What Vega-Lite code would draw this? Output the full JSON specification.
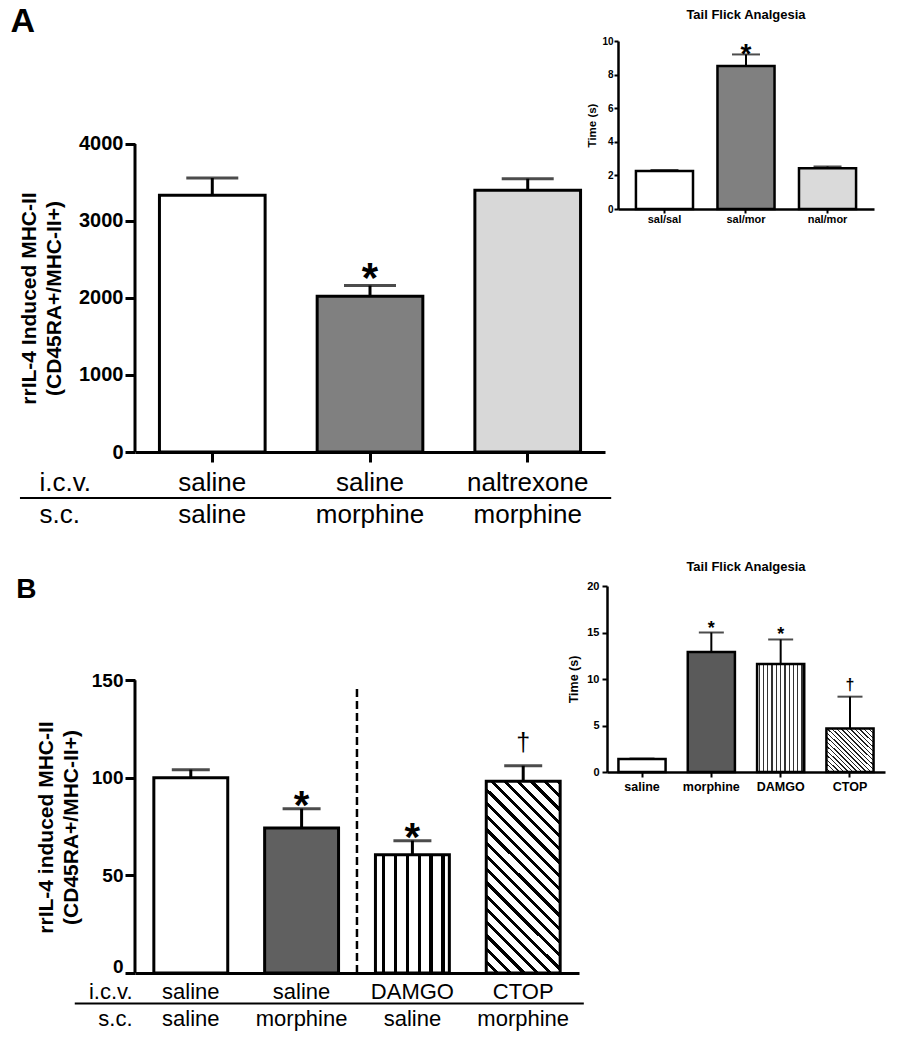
{
  "$schema": "https://vega.github.io/schema/vega-lite/v6.json",
  "background": "white",
  "padding": {"left": 10, "top": 5, "right": 5, "bottom": 5},
  "config": {
    "view": {"stroke": null},
    "font": "Liberation Sans",
    "axis": {"grid": false, "labelColor": "black", "titleColor": "black", "domainColor": "black", "tickColor": "black"},
    "title": {"color": "black"}
  },
  "spacing": 33,
  "vconcat": [
    {
      "spacing": -27,
      "hconcat": [
        {
          "width": 470,
          "height": 411,
          "title": {"text": "A", "anchor": "start", "frame": "bounds", "fontSize": 34, "fontWeight": "bold", "offset": 2, "dx": -8},
          "data": {"values": [
            {"group": "saline|saline", "value": 3334, "upper": 3557, "sig": ""},
            {"group": "saline|morphine", "value": 2023, "upper": 2161, "sig": "*"},
            {"group": "naltrexone|morphine", "value": 3398, "upper": 3548, "sig": ""}
          ]},
          "layer": [
            {
              "mark": {"type": "bar", "stroke": "black", "strokeWidth": 3},
              "encoding": {
                "x": {"field": "group", "type": "nominal", "sort": null,
                  "scale": {"paddingInner": 0.33, "paddingOuter": 0.155},
                  "axis": {"orient": "bottom", "labelAngle": 0, "labelExpr": "split(datum.value, '|')",
                    "labelFontSize": 26, "labelLineHeight": 32.7, "labelBaseline": "alphabetic", "labelPadding": 28,
                    "labelOverlap": false, "labelBound": false,
                    "title": ["i.c.v.", "s.c."], "titleX": -96, "titleY": 38, "titleAlign": "left",
                    "titleBaseline": "alphabetic", "titleFontSize": 26, "titleFontWeight": "normal", "titleLineHeight": 32.7,
                    "domainWidth": 3, "tickWidth": 3, "tickSize": 10}},
                "y": {"field": "value", "type": "quantitative", "scale": {"domain": [0, 5336], "nice": false},
                  "axis": {"orient": "left", "values": [0, 1000, 2000, 3000, 4000], "format": "d", "domain": false,
                    "title": ["rrIL-4 Induced MHC-II", "(CD45RA+/MHC-II+)"], "titleY": 257,
                    "titleFontSize": 21, "titleFontWeight": "bold", "titleLineHeight": 25, "titlePadding": 14,
                    "labelFontSize": 20, "labelFontWeight": "bold", "labelPadding": 2, "tickSize": 10, "tickWidth": 3}},
                "fill": {"condition": [
                  {"test": "datum.group === 'saline|morphine'", "value": "#808080"},
                  {"test": "datum.group === 'naltrexone|morphine'", "value": "#d8d8d8"}
                ], "value": "white"}
              }
            },
            {
              "transform": [{"filter": "datum.group === 'saline|saline'"}],
              "mark": {"type": "rule", "strokeWidth": 3, "color": "black"},
              "encoding": {
                "x": {"datum": "saline|saline", "type": "nominal", "bandPosition": -0.2313, "axis": null},
                "y": {"datum": 0, "type": "quantitative", "axis": null},
                "y2": {"datum": 4000}
              }
            },
            {
              "mark": {"type": "rule", "strokeWidth": 3, "color": "black"},
              "encoding": {
                "x": {"field": "group", "type": "nominal", "sort": null, "axis": null},
                "y": {"field": "value", "type": "quantitative", "axis": null},
                "y2": {"field": "upper"}
              }
            },
            {
              "mark": {"type": "tick", "orient": "horizontal", "size": 52, "thickness": 3, "color": "black"},
              "encoding": {
                "x": {"field": "group", "type": "nominal", "sort": null, "axis": null},
                "y": {"field": "upper", "type": "quantitative", "axis": null}
              }
            },
            {
              "transform": [{"filter": "datum.group === 'saline|saline'"}],
              "mark": {"type": "rule", "strokeWidth": 2, "color": "black"},
              "encoding": {
                "x": {"datum": "saline|saline", "type": "nominal", "bandPosition": -1.32, "axis": null},
                "x2": {"datum": "naltrexone|morphine", "bandPosition": 1.29},
                "y": {"datum": -597, "type": "quantitative", "axis": null}
              }
            },
            {
              "transform": [{"filter": "datum.sig === '*'"}],
              "mark": {"type": "text", "fontSize": 42, "fontWeight": "bold", "baseline": "alphabetic", "dy": 6, "color": "black"},
              "encoding": {
                "x": {"field": "group", "type": "nominal", "sort": null, "axis": null},
                "y": {"field": "upper", "type": "quantitative", "axis": null},
                "text": {"field": "sig"}
              }
            }
          ],
          "resolve": {"axis": {"x": "independent", "y": "independent"}}
        },
        {
          "width": 256,
          "height": 168,
          "title": {"text": "Tail Flick Analgesia", "anchor": "middle", "fontSize": 13, "fontWeight": "bold", "offset": 14},
          "data": {"values": [
            {"group": "sal/sal", "value": 2.26, "upper": 2.32, "sig": ""},
            {"group": "sal/mor", "value": 8.51, "upper": 9.2, "sig": "*"},
            {"group": "nal/mor", "value": 2.43, "upper": 2.53, "sig": ""}
          ]},
          "layer": [
            {
              "mark": {"type": "bar", "stroke": "black", "strokeWidth": 2.5},
              "encoding": {
                "x": {"field": "group", "type": "nominal", "sort": null,
                  "scale": {"paddingInner": 0.3, "paddingOuter": 0.22},
                  "axis": {"title": null, "labelAngle": 0, "labelFontSize": 11, "labelFontWeight": "bold", "labelPadding": 0,
                    "tickSize": 4, "tickWidth": 2, "domainWidth": 2.5}},
                "y": {"field": "value", "type": "quantitative", "scale": {"domain": [0, 10], "nice": false},
                  "axis": {"values": [0, 2, 4, 6, 8, 10], "labelOverlap": false, "title": "Time (s)", "titleFontSize": 11.5, "titleFontWeight": "bold", "titlePadding": 4,
                    "labelFontSize": 10, "labelFontWeight": "bold", "labelPadding": 1, "tickSize": 4, "tickWidth": 2, "domainWidth": 2.5}},
                "fill": {"condition": [
                  {"test": "datum.group === 'sal/mor'", "value": "#808080"},
                  {"test": "datum.group === 'nal/mor'", "value": "#dadada"}
                ], "value": "white"}
              }
            },
            {
              "mark": {"type": "rule", "strokeWidth": 2, "color": "black"},
              "encoding": {
                "x": {"field": "group", "type": "nominal", "sort": null, "axis": null},
                "y": {"field": "value", "type": "quantitative", "axis": null},
                "y2": {"field": "upper"}
              }
            },
            {
              "mark": {"type": "tick", "orient": "horizontal", "size": 28, "thickness": 2, "color": "black"},
              "encoding": {
                "x": {"field": "group", "type": "nominal", "sort": null, "axis": null},
                "y": {"field": "upper", "type": "quantitative", "axis": null}
              }
            },
            {
              "transform": [{"filter": "datum.sig === '*'"}],
              "mark": {"type": "text", "fontSize": 28, "fontWeight": "bold", "baseline": "alphabetic", "dy": 9, "color": "black"},
              "encoding": {
                "x": {"field": "group", "type": "nominal", "sort": null, "axis": null},
                "y": {"field": "upper", "type": "quantitative", "axis": null},
                "text": {"field": "sig"}
              }
            }
          ],
          "resolve": {"axis": {"x": "independent", "y": "independent"}}
        }
      ]
    },
    {
      "spacing": -18,
      "hconcat": [
        {
          "width": 444,
          "height": 387,
          "title": {"text": "B", "anchor": "start", "frame": "bounds", "fontSize": 28, "fontWeight": "bold", "offset": -18, "dx": -19},
          "data": {"values": [
            {"group": "saline|saline", "value": 100, "upper": 104.2, "sig": ""},
            {"group": "saline|morphine", "value": 74.3, "upper": 84.2, "sig": "*"},
            {"group": "DAMGO|saline", "value": 60.6, "upper": 67.8, "sig": "*"},
            {"group": "CTOP|morphine", "value": 98.2, "upper": 106.2, "sig": "†"}
          ]},
          "layer": [
            {
              "mark": {"type": "bar", "stroke": "black", "strokeWidth": 3},
              "encoding": {
                "x": {"field": "group", "type": "nominal", "sort": null,
                  "scale": {"paddingInner": 0.333, "paddingOuter": 0.17},
                  "axis": {"orient": "bottom", "labelAngle": 0, "labelExpr": "split(datum.value, '|')",
                    "labelFontSize": 22, "labelLineHeight": 27, "labelBaseline": "alphabetic", "labelPadding": 25,
                    "labelOverlap": false, "labelBound": false, "ticks": false, "tickSize": 0,
                    "title": ["i.c.v.", "s.c."], "titleX": -3, "titleY": 25, "titleAlign": "right",
                    "titleBaseline": "alphabetic", "titleFontSize": 22, "titleFontWeight": "normal", "titleLineHeight": 27,
                    "domainWidth": 3}},
                "y": {"field": "value", "type": "quantitative", "scale": {"domain": [0, 198.3], "nice": false},
                  "axis": {"orient": "left", "values": [0, 50, 100, 150], "format": "d", "domain": false,
                    "title": ["rrIL-4 induced MHC-II", "(CD45RA+/MHC-II+)"], "titleY": 241,
                    "titleFontSize": 21, "titleFontWeight": "bold", "titleLineHeight": 25, "titlePadding": 10,
                    "labelFontSize": 19, "labelFontWeight": "bold", "labelPadding": 2,
                    "labelOffset": {"condition": {"test": "datum.value === 0", "value": -7}, "value": 0},
                    "tickSize": 10, "tickWidth": 3}},
                "fill": {"condition": [
                  {"test": "datum.group === 'saline|morphine'", "value": "#606060"},
                  {"test": "datum.group === 'DAMGO|saline'", "value": {"gradient": "linear", "x1": 0, "y1": 0, "x2": 1, "y2": 0, "stops": [
                    {"offset": 0, "color": "#fff"}, {"offset": 0.09, "color": "#fff"}, {"offset": 0.09, "color": "#000"}, {"offset": 0.135, "color": "#000"},
                    {"offset": 0.135, "color": "#fff"}, {"offset": 0.25, "color": "#fff"}, {"offset": 0.25, "color": "#000"}, {"offset": 0.295, "color": "#000"},
                    {"offset": 0.295, "color": "#fff"}, {"offset": 0.41, "color": "#fff"}, {"offset": 0.41, "color": "#000"}, {"offset": 0.455, "color": "#000"},
                    {"offset": 0.455, "color": "#fff"}, {"offset": 0.57, "color": "#fff"}, {"offset": 0.57, "color": "#000"}, {"offset": 0.615, "color": "#000"},
                    {"offset": 0.615, "color": "#fff"}, {"offset": 0.73, "color": "#fff"}, {"offset": 0.73, "color": "#000"}, {"offset": 0.775, "color": "#000"},
                    {"offset": 0.775, "color": "#fff"}, {"offset": 0.89, "color": "#fff"}, {"offset": 0.89, "color": "#000"}, {"offset": 0.935, "color": "#000"},
                    {"offset": 0.935, "color": "#fff"}, {"offset": 1, "color": "#fff"}
                  ]}},
                  {"test": "datum.group === 'CTOP|morphine'", "value": {"gradient": "linear", "x1": 0, "y1": 1, "x2": 0.464, "y2": -0.206, "stops": [
                    {"offset": 0, "color": "#fff"},
                    {"offset": 0.034, "color": "#fff"}, {"offset": 0.034, "color": "#000"}, {"offset": 0.05, "color": "#000"}, {"offset": 0.05, "color": "#fff"},
                    {"offset": 0.084, "color": "#fff"}, {"offset": 0.084, "color": "#000"}, {"offset": 0.1, "color": "#000"}, {"offset": 0.1, "color": "#fff"},
                    {"offset": 0.134, "color": "#fff"}, {"offset": 0.134, "color": "#000"}, {"offset": 0.15, "color": "#000"}, {"offset": 0.15, "color": "#fff"},
                    {"offset": 0.184, "color": "#fff"}, {"offset": 0.184, "color": "#000"}, {"offset": 0.2, "color": "#000"}, {"offset": 0.2, "color": "#fff"},
                    {"offset": 0.234, "color": "#fff"}, {"offset": 0.234, "color": "#000"}, {"offset": 0.25, "color": "#000"}, {"offset": 0.25, "color": "#fff"},
                    {"offset": 0.284, "color": "#fff"}, {"offset": 0.284, "color": "#000"}, {"offset": 0.3, "color": "#000"}, {"offset": 0.3, "color": "#fff"},
                    {"offset": 0.334, "color": "#fff"}, {"offset": 0.334, "color": "#000"}, {"offset": 0.35, "color": "#000"}, {"offset": 0.35, "color": "#fff"},
                    {"offset": 0.384, "color": "#fff"}, {"offset": 0.384, "color": "#000"}, {"offset": 0.4, "color": "#000"}, {"offset": 0.4, "color": "#fff"},
                    {"offset": 0.434, "color": "#fff"}, {"offset": 0.434, "color": "#000"}, {"offset": 0.45, "color": "#000"}, {"offset": 0.45, "color": "#fff"},
                    {"offset": 0.484, "color": "#fff"}, {"offset": 0.484, "color": "#000"}, {"offset": 0.5, "color": "#000"}, {"offset": 0.5, "color": "#fff"},
                    {"offset": 0.534, "color": "#fff"}, {"offset": 0.534, "color": "#000"}, {"offset": 0.55, "color": "#000"}, {"offset": 0.55, "color": "#fff"},
                    {"offset": 0.584, "color": "#fff"}, {"offset": 0.584, "color": "#000"}, {"offset": 0.6, "color": "#000"}, {"offset": 0.6, "color": "#fff"},
                    {"offset": 0.634, "color": "#fff"}, {"offset": 0.634, "color": "#000"}, {"offset": 0.65, "color": "#000"}, {"offset": 0.65, "color": "#fff"},
                    {"offset": 0.684, "color": "#fff"}, {"offset": 0.684, "color": "#000"}, {"offset": 0.7, "color": "#000"}, {"offset": 0.7, "color": "#fff"},
                    {"offset": 0.734, "color": "#fff"}, {"offset": 0.734, "color": "#000"}, {"offset": 0.75, "color": "#000"}, {"offset": 0.75, "color": "#fff"},
                    {"offset": 0.784, "color": "#fff"}, {"offset": 0.784, "color": "#000"}, {"offset": 0.8, "color": "#000"}, {"offset": 0.8, "color": "#fff"},
                    {"offset": 0.834, "color": "#fff"}, {"offset": 0.834, "color": "#000"}, {"offset": 0.85, "color": "#000"}, {"offset": 0.85, "color": "#fff"},
                    {"offset": 0.884, "color": "#fff"}, {"offset": 0.884, "color": "#000"}, {"offset": 0.9, "color": "#000"}, {"offset": 0.9, "color": "#fff"},
                    {"offset": 0.934, "color": "#fff"}, {"offset": 0.934, "color": "#000"}, {"offset": 0.95, "color": "#000"}, {"offset": 0.95, "color": "#fff"},
                    {"offset": 0.984, "color": "#fff"}, {"offset": 0.984, "color": "#000"}, {"offset": 1, "color": "#000"}
                  ]}}
                ], "value": "white"}
              }
            },
            {
              "transform": [{"filter": "datum.group === 'saline|saline'"}],
              "mark": {"type": "rule", "strokeWidth": 3, "color": "black"},
              "encoding": {
                "x": {"datum": "saline|saline", "type": "nominal", "bandPosition": -0.255, "axis": null},
                "y": {"datum": 0, "type": "quantitative", "axis": null},
                "y2": {"datum": 150}
              }
            },
            {
              "mark": {"type": "rule", "strokeWidth": 3, "color": "black"},
              "encoding": {
                "x": {"field": "group", "type": "nominal", "sort": null, "axis": null},
                "y": {"field": "value", "type": "quantitative", "axis": null},
                "y2": {"field": "upper"}
              }
            },
            {
              "mark": {"type": "tick", "orient": "horizontal", "size": 38, "thickness": 3, "color": "black"},
              "encoding": {
                "x": {"field": "group", "type": "nominal", "sort": null, "axis": null},
                "y": {"field": "upper", "type": "quantitative", "axis": null}
              }
            },
            {
              "transform": [{"filter": "datum.group === 'DAMGO|saline'"}],
              "mark": {"type": "rule", "strokeDash": [8, 4], "strokeWidth": 2.5, "color": "black"},
              "encoding": {
                "x": {"datum": "DAMGO|saline", "type": "nominal", "bandPosition": -0.25, "axis": null},
                "y": {"datum": 0, "type": "quantitative", "axis": null},
                "y2": {"datum": 147}
              }
            },
            {
              "transform": [{"filter": "datum.group === 'saline|saline'"}],
              "mark": {"type": "rule", "strokeWidth": 2, "color": "black"},
              "encoding": {
                "x": {"datum": "saline|saline", "type": "nominal", "bandPosition": -1.07, "axis": null},
                "x2": {"datum": "CTOP|morphine", "bandPosition": 1.32},
                "y": {"datum": -15.6, "type": "quantitative", "axis": null}
              }
            },
            {
              "transform": [{"filter": "datum.sig === '*'"}],
              "mark": {"type": "text", "fontSize": 40, "fontWeight": "bold", "baseline": "alphabetic", "dy": 10, "color": "black"},
              "encoding": {
                "x": {"field": "group", "type": "nominal", "sort": null, "axis": null},
                "y": {"field": "upper", "type": "quantitative", "axis": null},
                "text": {"field": "sig"}
              }
            },
            {
              "transform": [{"filter": "datum.sig === '†'"}],
              "mark": {"type": "text", "fontSize": 25, "baseline": "alphabetic", "dy": -15, "color": "black"},
              "encoding": {
                "x": {"field": "group", "type": "nominal", "sort": null, "axis": null},
                "y": {"field": "upper", "type": "quantitative", "axis": null},
                "text": {"field": "sig"}
              }
            }
          ],
          "resolve": {"axis": {"x": "independent", "y": "independent"}}
        },
        {
          "width": 278,
          "height": 186,
          "title": {"text": "Tail Flick Analgesia", "anchor": "middle", "fontSize": 13, "fontWeight": "bold", "offset": 6},
          "data": {"values": [
            {"group": "saline", "value": 1.4, "upper": 1.45, "sig": ""},
            {"group": "morphine", "value": 12.9, "upper": 15.0, "sig": "*"},
            {"group": "DAMGO", "value": 11.6, "upper": 14.25, "sig": "*"},
            {"group": "CTOP", "value": 4.67, "upper": 8.1, "sig": "†"}
          ]},
          "layer": [
            {
              "mark": {"type": "bar", "stroke": "black", "strokeWidth": 2.5},
              "encoding": {
                "x": {"field": "group", "type": "nominal", "sort": null,
                  "scale": {"paddingInner": 0.32, "paddingOuter": 0.165},
                  "axis": {"title": null, "labelAngle": 0, "labelFontSize": 12.5, "labelFontWeight": "bold", "labelPadding": 3,
                    "tickSize": 5, "tickWidth": 2, "domainWidth": 2.5}},
                "y": {"field": "value", "type": "quantitative", "scale": {"domain": [0, 20], "nice": false},
                  "axis": {"values": [0, 5, 10, 15, 20], "labelOverlap": false, "title": "Time (s)", "titleFontSize": 12.5, "titleFontWeight": "bold", "titlePadding": 6,
                    "labelFontSize": 11, "labelFontWeight": "bold", "labelPadding": 3, "tickSize": 5, "tickWidth": 2, "domainWidth": 2.5}},
                "fill": {"condition": [
                  {"test": "datum.group === 'morphine'", "value": "#5a5a5a"},
                  {"test": "datum.group === 'DAMGO'", "value": {"gradient": "linear", "x1": 0, "y1": 0, "x2": 1, "y2": 0, "stops": [
                    {"offset": 0, "color": "#fff"}, {"offset": 0.032, "color": "#fff"}, {"offset": 0.032, "color": "#333"}, {"offset": 0.059, "color": "#333"},
                    {"offset": 0.059, "color": "#fff"}, {"offset": 0.123, "color": "#fff"}, {"offset": 0.123, "color": "#333"}, {"offset": 0.15, "color": "#333"},
                    {"offset": 0.15, "color": "#fff"}, {"offset": 0.214, "color": "#fff"}, {"offset": 0.214, "color": "#333"}, {"offset": 0.241, "color": "#333"},
                    {"offset": 0.241, "color": "#fff"}, {"offset": 0.305, "color": "#fff"}, {"offset": 0.305, "color": "#333"}, {"offset": 0.332, "color": "#333"},
                    {"offset": 0.332, "color": "#fff"}, {"offset": 0.396, "color": "#fff"}, {"offset": 0.396, "color": "#333"}, {"offset": 0.423, "color": "#333"},
                    {"offset": 0.423, "color": "#fff"}, {"offset": 0.487, "color": "#fff"}, {"offset": 0.487, "color": "#333"}, {"offset": 0.514, "color": "#333"},
                    {"offset": 0.514, "color": "#fff"}, {"offset": 0.577, "color": "#fff"}, {"offset": 0.577, "color": "#333"}, {"offset": 0.604, "color": "#333"},
                    {"offset": 0.604, "color": "#fff"}, {"offset": 0.668, "color": "#fff"}, {"offset": 0.668, "color": "#333"}, {"offset": 0.695, "color": "#333"},
                    {"offset": 0.695, "color": "#fff"}, {"offset": 0.759, "color": "#fff"}, {"offset": 0.759, "color": "#333"}, {"offset": 0.786, "color": "#333"},
                    {"offset": 0.786, "color": "#fff"}, {"offset": 0.85, "color": "#fff"}, {"offset": 0.85, "color": "#333"}, {"offset": 0.877, "color": "#333"},
                    {"offset": 0.877, "color": "#fff"}, {"offset": 0.941, "color": "#fff"}, {"offset": 0.941, "color": "#333"}, {"offset": 0.968, "color": "#333"},
                    {"offset": 0.968, "color": "#fff"}, {"offset": 1, "color": "#fff"}
                  ]}},
                  {"test": "datum.group === 'CTOP'", "value": {"gradient": "linear", "x1": 0, "y1": 1, "x2": 1.033, "y2": 0.035, "stops": [
                    {"offset": 0, "color": "#fff"},
                    {"offset": 0.034, "color": "#fff"}, {"offset": 0.034, "color": "#222"}, {"offset": 0.05, "color": "#222"}, {"offset": 0.05, "color": "#fff"},
                    {"offset": 0.084, "color": "#fff"}, {"offset": 0.084, "color": "#222"}, {"offset": 0.1, "color": "#222"}, {"offset": 0.1, "color": "#fff"},
                    {"offset": 0.134, "color": "#fff"}, {"offset": 0.134, "color": "#222"}, {"offset": 0.15, "color": "#222"}, {"offset": 0.15, "color": "#fff"},
                    {"offset": 0.184, "color": "#fff"}, {"offset": 0.184, "color": "#222"}, {"offset": 0.2, "color": "#222"}, {"offset": 0.2, "color": "#fff"},
                    {"offset": 0.234, "color": "#fff"}, {"offset": 0.234, "color": "#222"}, {"offset": 0.25, "color": "#222"}, {"offset": 0.25, "color": "#fff"},
                    {"offset": 0.284, "color": "#fff"}, {"offset": 0.284, "color": "#222"}, {"offset": 0.3, "color": "#222"}, {"offset": 0.3, "color": "#fff"},
                    {"offset": 0.334, "color": "#fff"}, {"offset": 0.334, "color": "#222"}, {"offset": 0.35, "color": "#222"}, {"offset": 0.35, "color": "#fff"},
                    {"offset": 0.384, "color": "#fff"}, {"offset": 0.384, "color": "#222"}, {"offset": 0.4, "color": "#222"}, {"offset": 0.4, "color": "#fff"},
                    {"offset": 0.434, "color": "#fff"}, {"offset": 0.434, "color": "#222"}, {"offset": 0.45, "color": "#222"}, {"offset": 0.45, "color": "#fff"},
                    {"offset": 0.484, "color": "#fff"}, {"offset": 0.484, "color": "#222"}, {"offset": 0.5, "color": "#222"}, {"offset": 0.5, "color": "#fff"},
                    {"offset": 0.534, "color": "#fff"}, {"offset": 0.534, "color": "#222"}, {"offset": 0.55, "color": "#222"}, {"offset": 0.55, "color": "#fff"},
                    {"offset": 0.584, "color": "#fff"}, {"offset": 0.584, "color": "#222"}, {"offset": 0.6, "color": "#222"}, {"offset": 0.6, "color": "#fff"},
                    {"offset": 0.634, "color": "#fff"}, {"offset": 0.634, "color": "#222"}, {"offset": 0.65, "color": "#222"}, {"offset": 0.65, "color": "#fff"},
                    {"offset": 0.684, "color": "#fff"}, {"offset": 0.684, "color": "#222"}, {"offset": 0.7, "color": "#222"}, {"offset": 0.7, "color": "#fff"},
                    {"offset": 0.734, "color": "#fff"}, {"offset": 0.734, "color": "#222"}, {"offset": 0.75, "color": "#222"}, {"offset": 0.75, "color": "#fff"},
                    {"offset": 0.784, "color": "#fff"}, {"offset": 0.784, "color": "#222"}, {"offset": 0.8, "color": "#222"}, {"offset": 0.8, "color": "#fff"},
                    {"offset": 0.834, "color": "#fff"}, {"offset": 0.834, "color": "#222"}, {"offset": 0.85, "color": "#222"}, {"offset": 0.85, "color": "#fff"},
                    {"offset": 0.884, "color": "#fff"}, {"offset": 0.884, "color": "#222"}, {"offset": 0.9, "color": "#222"}, {"offset": 0.9, "color": "#fff"},
                    {"offset": 0.934, "color": "#fff"}, {"offset": 0.934, "color": "#222"}, {"offset": 0.95, "color": "#222"}, {"offset": 0.95, "color": "#fff"},
                    {"offset": 0.984, "color": "#fff"}, {"offset": 0.984, "color": "#222"}, {"offset": 1, "color": "#222"}
                  ]}}
                ], "value": "white"}
              }
            },
            {
              "mark": {"type": "rule", "strokeWidth": 2, "color": "black"},
              "encoding": {
                "x": {"field": "group", "type": "nominal", "sort": null, "axis": null},
                "y": {"field": "value", "type": "quantitative", "axis": null},
                "y2": {"field": "upper"}
              }
            },
            {
              "mark": {"type": "tick", "orient": "horizontal", "size": 25, "thickness": 2, "color": "black"},
              "encoding": {
                "x": {"field": "group", "type": "nominal", "sort": null, "axis": null},
                "y": {"field": "upper", "type": "quantitative", "axis": null}
              }
            },
            {
              "transform": [{"filter": "datum.sig === '*'"}],
              "mark": {"type": "text", "fontSize": 18, "fontWeight": "bold", "baseline": "alphabetic", "dy": 1, "color": "black"},
              "encoding": {
                "x": {"field": "group", "type": "nominal", "sort": null, "axis": null},
                "y": {"field": "upper", "type": "quantitative", "axis": null},
                "text": {"field": "sig"}
              }
            },
            {
              "transform": [{"filter": "datum.sig === '†'"}],
              "mark": {"type": "text", "fontSize": 16, "fontWeight": "bold", "baseline": "alphabetic", "dy": -7, "color": "black"},
              "encoding": {
                "x": {"field": "group", "type": "nominal", "sort": null, "axis": null},
                "y": {"field": "upper", "type": "quantitative", "axis": null},
                "text": {"field": "sig"}
              }
            }
          ],
          "resolve": {"axis": {"x": "independent", "y": "independent"}}
        }
      ]
    }
  ]
}
